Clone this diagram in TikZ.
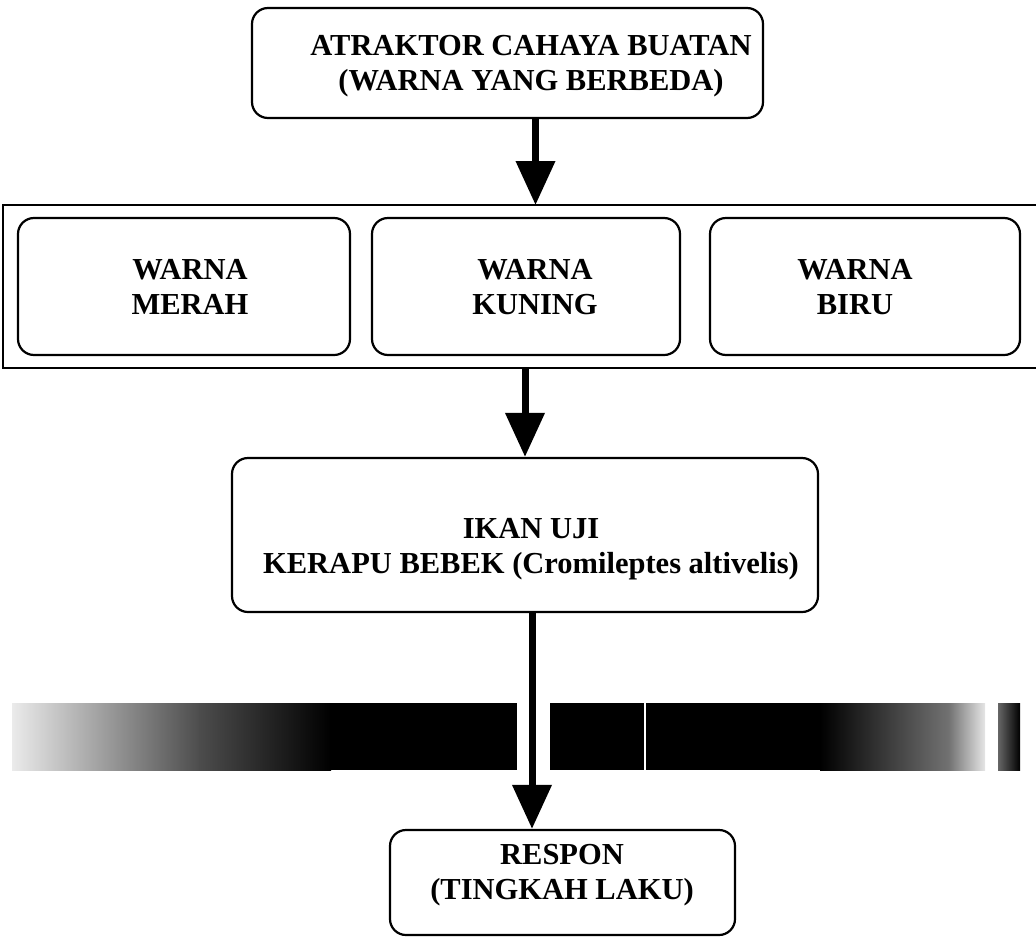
\documentclass[tikz,border=0pt]{standalone}
\usepackage{fontspec}
\setmainfont{Liberation Serif}
\usetikzlibrary{arrows.meta}
\tikzset{
  box/.style={draw, line width=2.2pt, rounded corners=16pt, inner sep=0pt},
  lbl/.style={font=\bfseries\fontsize{30.5}{35}\selectfont, align=center, inner sep=0pt},
  arr/.style={line width=7pt, -{Triangle[width=38pt,length=44pt]}},
  frameline/.style={line width=1.6pt}
}
\begin{document}
\begin{tikzpicture}[x=1pt,y=-1pt]
\useasboundingbox (0,0) rectangle (1036,940);
% top box
\node[box, minimum width=511pt, minimum height=110pt] (top) at (507.5,63) {};
\node[lbl] (toptext) at (531,66) {ATRAKTOR CAHAYA BUATAN\\(WARNA YANG BERBEDA)};
% frame
\coordinate (frTR) at (1040,205);
\coordinate (frTL) at (3,205);
\coordinate (frBL) at (3,368);
\coordinate (frBR) at (1040,368);
\draw[frameline] (frTR) -- (frTL) -- (frBL) -- (frBR);
% colour boxes
\node[box, minimum width=332pt, minimum height=137pt] (merah) at (184,286.5) {};
\node[lbl] (merahtext) at (190,287) {WARNA\\MERAH};
\node[box, minimum width=308pt, minimum height=137pt] (kuning) at (526,286.5) {};
\node[lbl] (kuningtext) at (535,287) {WARNA\\KUNING};
\node[box, minimum width=310pt, minimum height=137pt] (biru) at (865,286.5) {};
\node[lbl] (birutext) at (855,287) {WARNA\\BIRU};
% fish box
\node[box, minimum width=586pt, minimum height=154pt] (ikan) at (525,535) {};
\node[lbl] (ikantext) at (531,549) {IKAN UJI\\KERAPU BEBEK (Cromileptes altivelis)};
% response box
\node[box, minimum width=345pt, minimum height=105pt] (respon) at (562.5,882.5) {};
\node[lbl] (respontext) at (562,875) {RESPON\\(TINGKAH LAKU)};
% scan band
\shade[left color=black!8, right color=black!70] (12,703) rectangle (200,770);
\shade[left color=black!70, right color=black] (199,703) rectangle (331,770);
\fill[black] (330,703) rectangle (517,770);
\fill[black] (550,703) rectangle (821,770);
\fill[white] (644,703) rectangle (646,770);
\shade[left color=black, right color=black!55] (820,703) rectangle (950,770);
\shade[left color=black!55, right color=black!10] (949,703) rectangle (985,770);
\shade[left color=black!60, right color=black] (998,703) rectangle (1020,770);
% arrows
\draw[arr] ([xshift=28pt]top.south) -- ([xshift=28pt]top.south |- frTL);
\draw[arr] (frBL -| ikan.north) -- (ikan.north);
\draw[arr] ([xshift=7pt]ikan.south) -- ([xshift=7pt]ikan.south |- respon.north);
\end{tikzpicture}
\end{document}
